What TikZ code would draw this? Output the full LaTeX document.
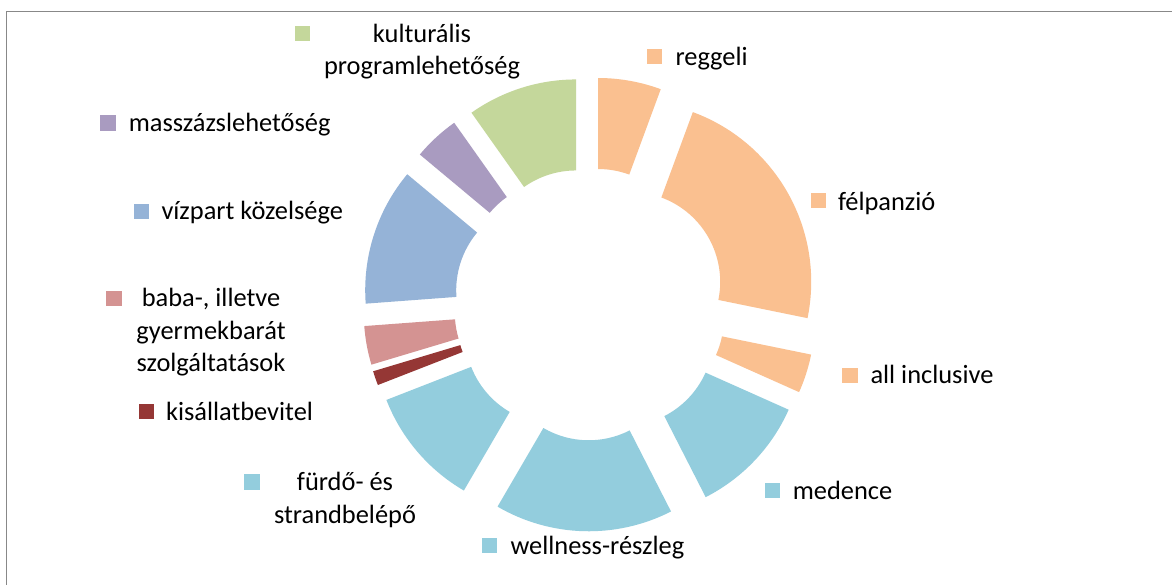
\documentclass[tikz,border=0pt]{standalone}
\usepackage{fontspec}
\setmainfont{Carlito}
\definecolor{orng}{HTML}{FAC090}
\definecolor{lblue}{HTML}{93CDDD}
\definecolor{dred}{HTML}{953735}
\definecolor{pink}{HTML}{D49392}
\definecolor{mblue}{HTML}{95B3D7}
\definecolor{purp}{HTML}{A99BC0}
\definecolor{grn}{HTML}{C4D79B}
\definecolor{frame}{HTML}{888888}
\begin{document}
\begin{tikzpicture}[x=1pt,y=1pt,
  mk/.style={draw=none,minimum size=15.3pt,inner sep=0pt,outer sep=0pt},
  lbl/.style={anchor=base west,inner sep=0pt,outer sep=0pt,font=\fontsize{26.4}{32.2}\selectfont},
  mlbl/.style={anchor=base,inner sep=0pt,outer sep=0pt,align=center,font=\fontsize{26.4}{32.4}\selectfont}]
\useasboundingbox (0,0) rectangle (1172,585);
\fill[white] (0,0) rectangle (1172,585);
% frame (only top and left edges visible)
\coordinate (fTL) at (6.5,573.5);
\coordinate (fTR) at (1172,573.5);
\coordinate (fBL) at (6.5,0);
\draw[frame,line width=1.8pt] (fTR) -- (fTL) -- (fBL);
% donut
\coordinate (c) at (590,280.7);
\foreach \a/\b/\col in {90/69.75/orng, 69.75/-11.55/orng, -11.55/-24.05/orng,
  -24.05/-62.95/lblue, -62.95/-120.25/lblue, -120.25/-158.7/lblue,
  -158.7/-163.3/dred, -163.3/-175.75/pink, -175.75/-219.85/mblue,
  -219.85/-234.7/purp, -234.7/-270/grn}{
  \pgfmathsetmacro\m{(\a+\b)/2}
  \fill[\col,shift={(c)},shift={(\m:46)}]
    (\a:181) arc[start angle=\a,end angle=\b,radius=181]
    -- (\b:90) arc[start angle=\b,end angle=\a,radius=90] -- cycle;
}
% legend markers
\node[mk,fill=grn]   (mKult) at (302.5,551.5) {};
\node[mk,fill=orng]  (mReg)  at (654.7,528.3) {};
\node[mk,fill=orng]  (mFel)  at (818.3,384.3) {};
\node[mk,fill=orng]  (mAll)  at (850,209.7) {};
\node[mk,fill=lblue] (mMed)  at (772.5,94.8) {};
\node[mk,fill=lblue] (mWell) at (489.5,39.5) {};
\node[mk,fill=lblue] (mFurd) at (252,103) {};
\node[mk,fill=dred]  (mKis)  at (146.2,173.3) {};
\node[mk,fill=pink]  (mBaba) at (114,286.8) {};
\node[mk,fill=mblue] (mViz)  at (141.5,373.8) {};
\node[mk,fill=purp]  (mMass) at (108,462.1) {};
% legend texts (multi-line nodes: base = last line)
\node[mlbl] (tKult) at (422,510.3) {kulturális\\programlehetőség};
\node[lbl]  (tReg)  at (675.5,519.3) {reggeli};
\node[lbl]  (tFel)  at (838,374.3) {félpanzió};
\node[lbl]  (tAll)  at (870.5,201) {all inclusive};
\node[lbl]  (tMed)  at (792.8,85) {medence};
\node[lbl]  (tWell) at (510.5,30) {wellness-részleg};
\node[mlbl] (tFurd) at (345,61.9) {fürdő- és\\strandbelépő};
\node[lbl]  (tKis)  at (166,164.3) {kisállatbevitel};
\node[mlbl] (tBaba) at (211,213.3) {baba-, illetve\\gyermekbarát\\szolgáltatások};
\node[lbl]  (tViz)  at (161.5,365) {vízpart közelsége};
\node[lbl]  (tMass) at (128.8,453.3) {masszázslehetőség};
\end{tikzpicture}
\end{document}
